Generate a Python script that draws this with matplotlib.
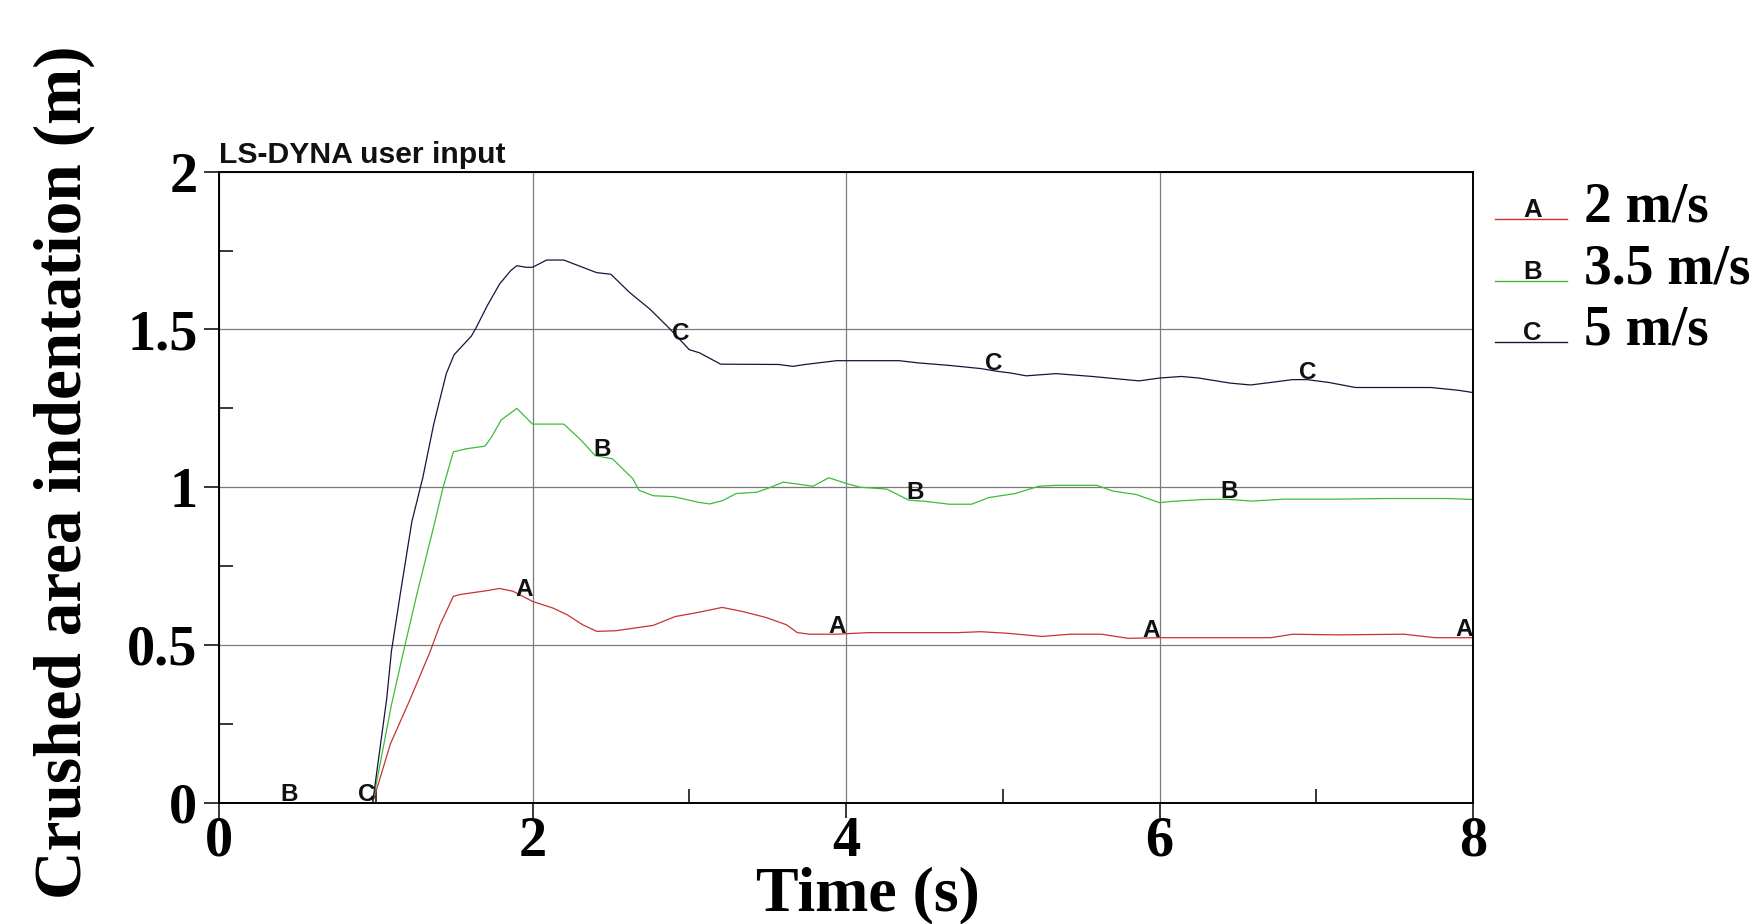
import matplotlib
matplotlib.use("Agg")
import matplotlib.pyplot as plt
import numpy as np
from matplotlib.legend_handler import HandlerBase
from matplotlib.lines import Line2D
from matplotlib.text import Text

# ---------------- data ----------------
series_labels = ["2 m/s", "3.5 m/s", "5 m/s"]
series_letters = ["A", "B", "C"]

time_a = [0, 0.98, 1.094, 1.217, 1.347, 1.41, 1.495, 1.54, 1.707, 1.79, 1.877, 2.0,
          2.13, 2.22, 2.32, 2.41, 2.53, 2.77, 2.91, 3.065, 3.21, 3.34, 3.49, 3.62,
          3.69, 3.77, 3.94, 4.14, 4.71, 4.86, 5.03, 5.25, 5.43, 5.63, 5.80, 6.0,
          6.71, 6.85, 7.14, 7.56, 7.76, 8.0]
disp_a = [0, 0, 0.187, 0.325, 0.479, 0.564, 0.654, 0.66, 0.672, 0.679, 0.670, 0.638,
          0.617, 0.596, 0.564, 0.543, 0.545, 0.562, 0.59, 0.604, 0.619, 0.606, 0.587, 0.564,
          0.539, 0.534, 0.534, 0.539, 0.539, 0.542, 0.537, 0.527, 0.534, 0.534, 0.521, 0.523,
          0.523, 0.534, 0.532, 0.534, 0.523, 0.523]

time_b = [0, 0.98, 1.10, 1.177, 1.262, 1.368, 1.43, 1.495, 1.58, 1.697, 1.74, 1.80,
          1.90, 2.0, 2.2, 2.31, 2.40, 2.51, 2.64, 2.68, 2.77, 2.9, 3.06, 3.13, 3.21,
          3.30, 3.43, 3.51, 3.6, 3.66, 3.79, 3.89, 4.0, 4.09, 4.26, 4.40, 4.51, 4.66,
          4.80, 4.91, 5.08, 5.23, 5.34, 5.60, 5.70, 5.85, 6.0, 6.08, 6.28, 6.42, 6.59,
          6.79, 7.14, 7.42, 7.85, 8.0]
disp_b = [0, 0, 0.31, 0.479, 0.66, 0.872, 1.0, 1.112, 1.122, 1.13, 1.16, 1.213,
          1.25, 1.20, 1.20, 1.149, 1.10, 1.09, 1.027, 0.99, 0.973, 0.97, 0.952, 0.947, 0.957,
          0.98, 0.984, 0.998, 1.016, 1.012, 1.003, 1.030, 1.012, 1.0, 0.994, 0.959, 0.955, 0.946,
          0.946, 0.967, 0.98, 1.003, 1.006, 1.006, 0.988, 0.977, 0.951, 0.955, 0.961, 0.962, 0.956,
          0.962, 0.962, 0.964, 0.964, 0.961]

time_c = [0, 0.98, 1.07, 1.10, 1.156, 1.23, 1.30, 1.37, 1.41, 1.45, 1.50, 1.56, 1.61,
          1.64, 1.71, 1.79, 1.86, 1.90, 1.96, 2.0, 2.09, 2.2, 2.32, 2.41, 2.50, 2.62,
          2.75, 2.87, 3.0, 3.065, 3.20, 3.57, 3.66, 3.74, 3.94, 4.34, 4.46, 4.66, 4.86,
          4.97, 5.05, 5.15, 5.34, 5.57, 5.74, 5.87, 6.0, 6.14, 6.25, 6.45, 6.58, 6.71,
          6.85, 6.94, 7.08, 7.25, 7.54, 7.73, 7.91, 8.0]
disp_c = [0, 0, 0.33, 0.48, 0.66, 0.89, 1.03, 1.20, 1.28, 1.36, 1.42, 1.452, 1.479,
          1.505, 1.574, 1.644, 1.686, 1.702, 1.697, 1.697, 1.72, 1.72, 1.697, 1.68, 1.675, 1.617,
          1.564, 1.505, 1.436, 1.426, 1.39, 1.389, 1.383, 1.389, 1.401, 1.401, 1.394, 1.386, 1.376,
          1.367, 1.362, 1.353, 1.36, 1.351, 1.343, 1.337, 1.346, 1.351, 1.346, 1.33, 1.324, 1.332,
          1.341, 1.341, 1.332, 1.316, 1.316, 1.316, 1.307, 1.30]

# positions of the curve-identifying letters (LS-DYNA style)
label_x_a = [2, 4, 6, 8]
label_x_b = [0.5, 2.5, 4.5, 6.5]
label_x_c = [1, 3, 5, 7]

x_ticks = [0, 2, 4, 6, 8]
x_minor = [1, 3, 5, 7]
y_ticks = [0, 0.5, 1, 1.5, 2]
y_minor = [0.25, 0.75, 1.25, 1.75]
x_ticklabels = ["0", "2", "4", "6", "8"]
y_ticklabels = ["0", "0.5", "1", "1.5", "2"]

# ---------------- styling ----------------
colors = ["#c83232", "#3cbc3c", "#15153a"]
SERIF = ["Liberation Serif", "DejaVu Serif"]
SANS = ["Liberation Sans", "DejaVu Sans"]

W, H = 1763, 924
fig = plt.figure(figsize=(W / 100, H / 100), dpi=100, facecolor="white")
ax = fig.add_axes([219 / W, 1 - 802.7 / H, (1473 - 219) / W, (802.7 - 171.7) / H])

series = [(time_a, disp_a, label_x_a), (time_b, disp_b, label_x_b), (time_c, disp_c, label_x_c)]
handles = []
for (t, d, lx), col, lab, let in zip(series, colors, series_labels, series_letters):
    ln, = ax.plot(t, d, color=col, lw=0.9, label=lab, zorder=3)
    handles.append(ln)
    for x in lx:
        y = np.interp(x - 0.05, t, d)
        ax.text(x, y + 0.004, let, ha="right", va="baseline", fontsize=17.5,
                fontweight="bold", family=SANS, color="#111111", zorder=4, clip_on=False)

ax.set_xlim(0, 8)
ax.set_ylim(0, 2)
ax.set_xticks(x_ticks)
ax.set_xticklabels(x_ticklabels)
ax.set_yticks(y_ticks)
ax.set_yticklabels(y_ticklabels)
ax.set_xticks(x_minor, minor=True)
ax.set_yticks(y_minor, minor=True)
ax.grid(True, which="major", color="#7a7a7a", lw=0.9, zorder=1)
ax.tick_params(which="major", direction="out", length=10.5, width=1.1, color="black")
ax.tick_params(which="minor", direction="in", length=10, width=1.1, color="black")
ax.tick_params(axis="y", which="major", pad=5)
ax.tick_params(axis="x", which="major", pad=-1)
for lbl in ax.get_xticklabels() + ax.get_yticklabels():
    lbl.set_fontfamily(SERIF)
    lbl.set_fontweight("bold")
    lbl.set_fontsize(40.5)
for sp in ax.spines.values():
    sp.set_color("black")
    sp.set_linewidth(1.4)
    sp.set_zorder(5)

ax.annotate("LS-DYNA user input", xy=(0, 1), xycoords="axes fraction",
            xytext=(0, 6), textcoords="offset points", ha="left", va="baseline",
            fontsize=21.7, fontweight="bold", family=SANS, color="#111111")

fig.text(81 / W, 1 - 472 / H, "Crushed area indentation (m)", rotation=90,
         rotation_mode="anchor", ha="center", va="baseline", fontsize=48.5,
         fontweight="bold", family=SERIF)
fig.text(867.5 / W, 1 - 910 / H, "Time (s)", ha="center", va="baseline",
         fontsize=46, fontweight="bold", family=SERIF)


class LetterLine(HandlerBase):
    def __init__(self, letter):
        super().__init__()
        self.letter = letter

    def create_artists(self, legend, orig_handle, xdescent, ydescent, width, height,
                       fontsize, trans):
        x0 = -xdescent
        y0 = -ydescent + 2
        line = Line2D([x0, x0 + width], [y0, y0], color=orig_handle.get_color(),
                      lw=1.0, transform=trans)
        txt = Text(x0 + width * 0.52, y0 + 1.5, self.letter, ha="center", va="baseline",
                   fontsize=18.5, fontweight="bold", family=SANS, color="#111111",
                   transform=trans)
        return [line, txt]


leg = ax.legend(handles, series_labels,
                handler_map={h: LetterLine(l) for h, l in zip(handles, series_letters)},
                loc="upper left", bbox_to_anchor=(1495 / W, 1 - 182 / H),
                bbox_transform=fig.transFigure, frameon=False, borderpad=0,
                borderaxespad=0, handlelength=1.3, handletextpad=0.3,
                labelspacing=0.17, prop={"family": SERIF, "weight": "bold", "size": 40})

fig.savefig("out.png", dpi=100, facecolor="white")
